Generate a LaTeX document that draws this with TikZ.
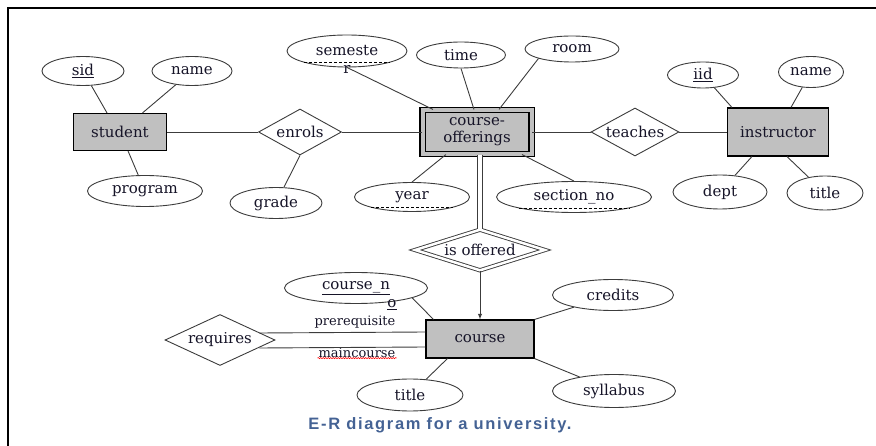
\documentclass[tikz,border=0pt]{standalone}
\usepackage{fontspec}
\setmainfont{DejaVu Serif}
\newfontfamily\capfont[LetterSpace=10]{Liberation Sans}
\usetikzlibrary{shapes.geometric,decorations.pathmorphing}
\definecolor{entgray}{RGB}{192,192,192}
\definecolor{capblue}{RGB}{68,98,148}
\definecolor{linegray}{RGB}{60,60,60}
\definecolor{inkcol}{RGB}{22,20,40}

\begin{document}
\begin{tikzpicture}[x=1pt, y=-1pt, font=\fontsize{15}{17}\selectfont, text=inkcol,
        entity/.style={rectangle, draw=black, line width=1.1pt, fill=entgray, inner sep=0pt},
        attr/.style={ellipse, draw=linegray, line width=0.9pt, fill=white, inner sep=0pt},
        rel/.style={diamond, draw=linegray, line width=0.9pt, fill=white, inner sep=0pt, aspect=2},
        partkey/.style={draw=black, line width=0.8pt, dash pattern=on 3pt off 2pt},
        rolelbl/.style={inner sep=1pt, font=\fontsize{13}{15}\selectfont},
        line/.style={draw=linegray, line width=0.9pt}]

        \useasboundingbox (0,0) rectangle (876,446);
        \draw[line width=1.6pt] (8,446) -- (8,8) -- (876,8);

        % entity sets
        \node [entity, minimum width=93pt, minimum height=37pt] (stu) at (120,132) {student};
        \node [entity, double=entgray, double distance=4pt, minimum width=109pt, minimum height=44pt, align=center] (co) at (477,132) {course-\\offerings};
        \node [entity, minimum width=101pt, minimum height=48pt] (ins) at (778,132) {instructor};
        \node [entity, minimum width=108pt, minimum height=38pt] (crs) at (480,339) {course};

        % relationship sets
        \node [rel, minimum width=83pt, minimum height=46pt] (enr) at (300,132) {enrols};
        \node [rel, minimum width=88pt, minimum height=48pt] (tea) at (635,132) {teaches};
        \node [rel, minimum width=110pt, minimum height=51pt] (req) at (220,340) {requires};
        \node [rel, aspect=3, double, double distance=2.5pt, minimum width=130pt, minimum height=41pt] (off) at (480,250) {is offered};

        % attributes of student
        \node [attr, minimum width=82pt, minimum height=29pt] (sid) at (83,71) {\underline{sid}};
        \node [attr, minimum width=80pt, minimum height=29pt] (sname) at (192,71) {name};
        \node [attr, minimum width=115pt, minimum height=31pt] (prog) at (145,191) {program};
        \node [attr, minimum width=92pt, minimum height=31pt] (grade) at (276,203) {grade};

        % attributes of course-offerings
        \node [attr, minimum width=120pt, minimum height=32pt] (sem) at (347,51) {semeste};
        \node [inner sep=0pt] (semr) at (347,70) {r};
        \node [attr, minimum width=89pt, minimum height=26pt] (time) at (461,55) {time};
        \node [attr, minimum width=94pt, minimum height=26pt] (room) at (572,49) {room};
        \node [attr, minimum width=115pt, minimum height=29pt] (year) at (412,197) {year};
        \node [attr, minimum width=155pt, minimum height=31pt] (sec) at (574,197) {section\_no};

        % attributes of instructor
        \node [attr, minimum width=71pt, minimum height=26pt] (iid) at (703,75) {\underline{iid}};
        \node [attr, minimum width=65pt, minimum height=31pt] (iname) at (811,72) {name};
        \node [attr, minimum width=94pt, minimum height=34pt] (dept) at (720,192) {dept};
        \node [attr, minimum width=76pt, minimum height=34pt] (ititle) at (825,193) {title};

        % attributes of course
        \node [attr, minimum width=143pt, minimum height=31pt] (cno) at (356,288) {\underline{course\_n}};
        \node [inner sep=0pt] (cnoo) at (392,305) {\underline{o}};
        \node [attr, minimum width=121pt, minimum height=31pt] (cred) at (613,295) {credits};
        \node [attr, minimum width=123pt, minimum height=33pt] (syl) at (614,391) {syllabus};
        \node [attr, minimum width=106pt, minimum height=32pt] (ctitle) at (410,395) {title};

        % partial keys
        \draw [partkey] (sem.south west) -- (sem.south east);
        \draw [partkey] (year.south west) -- (year.south east);
        \draw [partkey] (sec.south west) -- (sec.south east);

        % role labels
        \node [rolelbl] (pre) at (355,322) {prerequisite};
        \node [rolelbl] (mainc) at (357,353) {maincourse};
        \draw [red, line width=0.5pt, decorate, decoration={snake, amplitude=0.6pt, segment length=2.5pt}] ([yshift=1pt]mainc.south west) -- ([yshift=1pt]mainc.south east);

        % links
        \path [line] (sid) -- ([xshift=-13pt]stu.north);
        \path [line] (sname) -- (stu);
        \path [line] (prog) -- (stu);
        \path [line] (stu) -- (enr);
        \path [line] (enr) -- (co);
        \path [line] (enr.south) -- (grade);
        \path [line] (sem.south) -- ([xshift=11pt]co.north west);
        \path [line] (time.south) -- ([xshift=-3pt]co.north);
        \path [line] (room.south west) -- ([xshift=22pt]co.north);
        \path [line] (year.north) -- ([xshift=24pt]co.south west);
        \path [line] (sec.north) -- ([xshift=-10pt]co.south east);
        \path [line] (co) -- (tea);
        \path [line] (tea) -- (ins);
        \path [line] (iid) -- ([xshift=5pt]ins.north west);
        \path [line] (iname) -- ([xshift=64pt]ins.north west);
        \path [line] (dept) -- ([xshift=25pt]ins.south west);
        \path [line] (ititle) -- ([xshift=60pt]ins.south west);
        \path [line, double, double distance=4.5pt] (off.north |- co.south) -- (off.north);
        \path [line, -latex] (off.south) -- (off.south |- crs.north);
        \path [line] (cno.-10) -- ([xshift=8pt]crs.north west);
        \path [line] (cred) -- (crs.north east);
        \path [line] (crs.south east) -- (syl);
        \path [line] (ctitle) -- ([xshift=22pt]crs.south west);
        \path [line] ([xshift=-16pt,yshift=7pt]req.east) -- ([yshift=7pt]crs.west);
        \path [line] ([xshift=-16pt,yshift=-8pt]req.east) -- ([yshift=-8pt]crs.west);

        % caption
        \node [text=capblue, font=\capfont\bfseries\fontsize{16.5}{18}\selectfont] (cap) at (440,425) {E-R diagram for a university.};
    \end{tikzpicture}
\end{document}
